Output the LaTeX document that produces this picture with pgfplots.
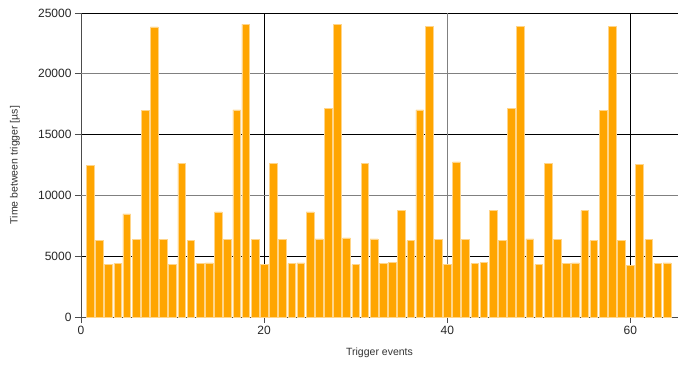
\documentclass[border=0pt]{standalone}
\usepackage{fontspec}
\setmainfont{Liberation Sans}
\usepackage{pgfplots}
\pgfplotsset{compat=1.18}
\definecolor{barfill}{HTML}{FFA500}
\definecolor{baredge}{HTML}{FFD58A}
\begin{document}
\begin{tikzpicture}
\path[use as bounding box] (0,0) rectangle (687pt,365pt);
\begin{axis}[
  at={(81pt,48pt)}, anchor=south west,
  scale only axis, width=597pt, height=304pt,
  xmin=0, xmax=65.2, ymin=0, ymax=25000,
  axis x line*=bottom, axis y line*=left,
  axis line style={-, black!70, line width=0.8pt},
  xtick={0,20,60}, extra x ticks={40},
  ytick={0,5000,15000,25000}, extra y ticks={10000,20000},
  ymajorgrids, xmajorgrids,
  grid style={black, line width=0.7pt},
  extra x tick style={grid style={gray, line width=1.2pt}},
  extra y tick style={grid style={gray, line width=1.2pt}},
  tick align=outside, major tick length=6pt,
  tick style={black!70, line width=0.7pt},
  scaled y ticks=false,
  /pgf/number format/assume math mode=true,
  /pgf/number format/1000 sep={},
  ticklabel style={font=\fontsize{12}{14}\selectfont, text=black!85},
  xlabel={Trigger events}, ylabel={Time between trigger [µs]},
  label style={font=\fontsize{10.5}{12}\selectfont, text=black!80},
  xlabel style={at={(axis description cs:0.5,-0.118)}, anchor=center},
  ylabel style={at={(axis description cs:-0.1106,0.5)}, anchor=center},
]
\addplot[ybar, bar width=0.84, fill=barfill, draw=baredge, line width=0.5pt] coordinates {
(1,12450) (2,6290) (3,4310) (4,4400) (5,8490) (6,6370) (7,16980) (8,23850)
(9,6370) (10,4310) (11,12660) (12,6290) (13,4400) (14,4450) (15,8650) (16,6370)
(17,17030) (18,24090) (19,6370) (20,4310) (21,12610) (22,6370) (23,4400) (24,4450)
(25,8650) (26,6430) (27,17140) (28,24090) (29,6510) (30,4310) (31,12610) (32,6430)
(33,4400) (34,4500) (35,8740) (36,6290) (37,17030) (38,23930) (39,6370) (40,4310)
(41,12750) (42,6370) (43,4400) (44,4500) (45,8740) (46,6290) (47,17140) (48,23930)
(49,6430) (50,4310) (51,12610) (52,6370) (53,4400) (54,4450) (55,8740) (56,6290)
(57,16980) (58,23930) (59,6290) (60,4230) (61,12530) (62,6370) (63,4400) (64,4450)
};
\end{axis}
\end{tikzpicture}
\end{document}
